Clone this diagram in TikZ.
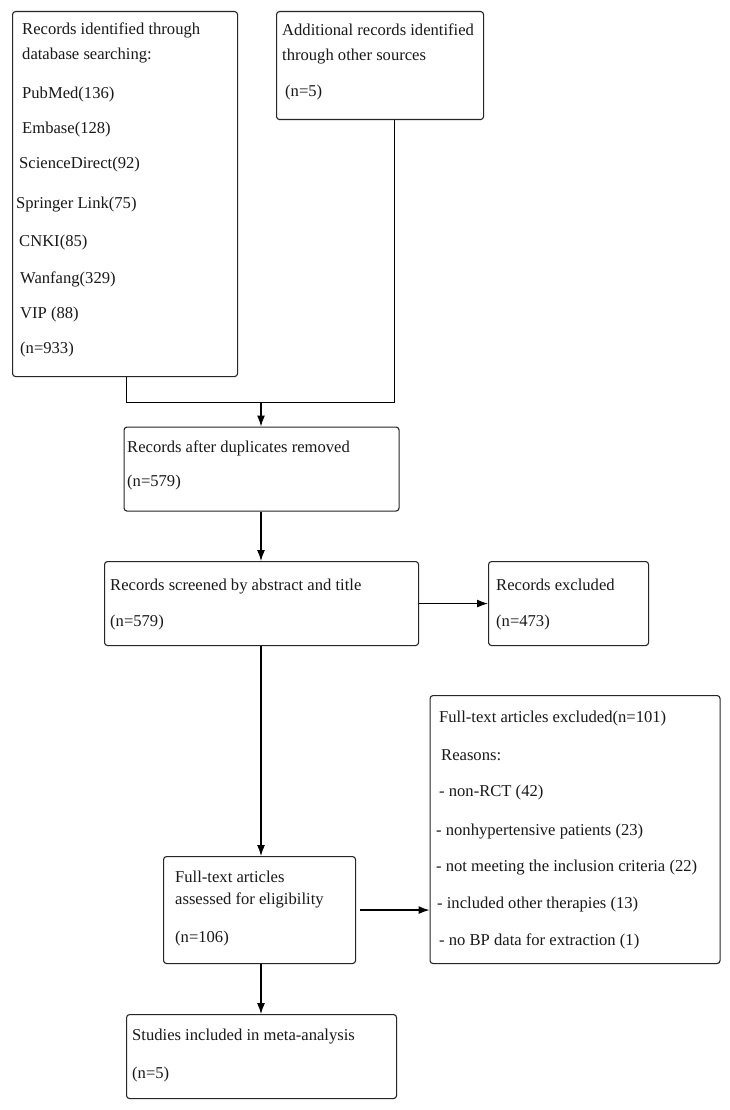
\documentclass[tikz,border=0pt]{standalone}
\usepackage{fontspec}
\setmainfont{Liberation Serif}
\usetikzlibrary{arrows.meta}
\begin{document}
\begin{tikzpicture}[x=1pt,y=-1pt,
  box/.style={draw=black!85, line width=1.1pt, rounded corners=3pt, anchor=north west, inner sep=0pt},
  txt/.style={anchor=base west, inner sep=0pt, font=\fontsize{16.6}{19}\selectfont, text=black!90},
  conn/.style={draw=black, line width=1.2pt},
  arr/.style={conn, -{Latex[length=11pt,width=8pt]}}]
\fill[white] (0,0) rectangle (730,1110);
\useasboundingbox (0,0) rectangle (730,1110);
% boxes
\node[box, minimum width=225pt, minimum height=365pt] (b1) at (12,11) {};
\node[box, minimum width=207pt, minimum height=108pt] (b2) at (276,11) {};
\node[box, minimum width=275pt, minimum height=84pt] (b3) at (123.5,426.5) {};
\node[box, minimum width=314pt, minimum height=84pt] (b4) at (104,561) {};
\node[box, minimum width=160pt, minimum height=84pt] (b5) at (488,561) {};
\node[box, minimum width=290pt, minimum height=268pt] (b6) at (429.5,695) {};
\node[box, minimum width=192pt, minimum height=107pt] (b7) at (163,856) {};
\node[box, minimum width=270pt, minimum height=84pt] (b8) at (126,1014) {};
% box 1 text
\node[txt] (t1a) at (22,35) {Records identified through};
\node[txt] (t1b) at (22,60) {database searching:};
\node[txt] (t1c) at (22,99) {PubMed(136)};
\node[txt] (t1d) at (22,134) {Embase(128)};
\node[txt] (t1e) at (19,169) {ScienceDirect(92)};
\node[txt] (t1f) at (16,208) {Springer Link(75)};
\node[txt] (t1g) at (19,246) {CNKI(85)};
\node[txt] (t1h) at (20,283) {Wanfang(329)};
\node[txt] (t1i) at (20,318) {VIP (88)};
\node[txt] (t1j) at (20,353) {(n=933)};
% box 2 text
\node[txt] (t2a) at (282,36) {Additional records identified};
\node[txt] (t2b) at (282,61) {through other sources};
\node[txt] (t2c) at (285,97) {(n=5)};
% box 3 text
\node[txt] (t3a) at (127,452) {Records after duplicates removed};
\node[txt] (t3b) at (127,486) {(n=579)};
% box 4 text
\node[txt] (t4a) at (110,590) {Records screened by abstract and title};
\node[txt] (t4b) at (110,626) {(n=579)};
% box 5 text
\node[txt] (t5a) at (496,590) {Records excluded};
\node[txt] (t5b) at (496,626) {(n=473)};
% box 6 text
\node[txt] (t6a) at (439,722) {Full-text articles excluded(n=101)};
\node[txt] (t6b) at (441,760) {Reasons:};
\node[txt] (t6c) at (439,796) {- non-RCT (42)};
\node[txt] (t6d) at (436,835) {- nonhypertensive patients (23)};
\node[txt] (t6e) at (436,871) {- not meeting the inclusion criteria (22)};
\node[txt] (t6f) at (437,908) {- included other therapies (13)};
\node[txt] (t6g) at (439,945) {- no BP data for extraction (1)};
% box 7 text
\node[txt] (t7a) at (175,882) {Full-text articles};
\node[txt] (t7b) at (175,904) {assessed for eligibility};
\node[txt] (t7c) at (175,942) {(n=106)};
% box 8 text
\node[txt] (t8a) at (132,1040) {Studies included in meta-analysis};
\node[txt] (t8b) at (132,1078) {(n=5)};
% connectors
\coordinate (jl) at (126.5,402.5);
\coordinate (jr) at (394.5,402.5);
\coordinate (jm) at (261,402.5);
\draw[conn] (b1.south -| jl) -- (jl) -- (jr) -- (b2.south -| jr);
\draw[arr] (jm) -- (b3.north -| jm);
\draw[arr] (b3.south -| jm) -- (b4.north -| jm);
\draw[arr] (b4.east) -- (b5.west);
\draw[arr] (b4.south -| jm) -- (b7.north -| jm);
\draw[arr, shorten <=4pt] (b7.east) -- (b6.west |- b7.east);
\draw[arr] (b7.south -| jm) -- (b8.north -| jm);
\end{tikzpicture}
\end{document}
